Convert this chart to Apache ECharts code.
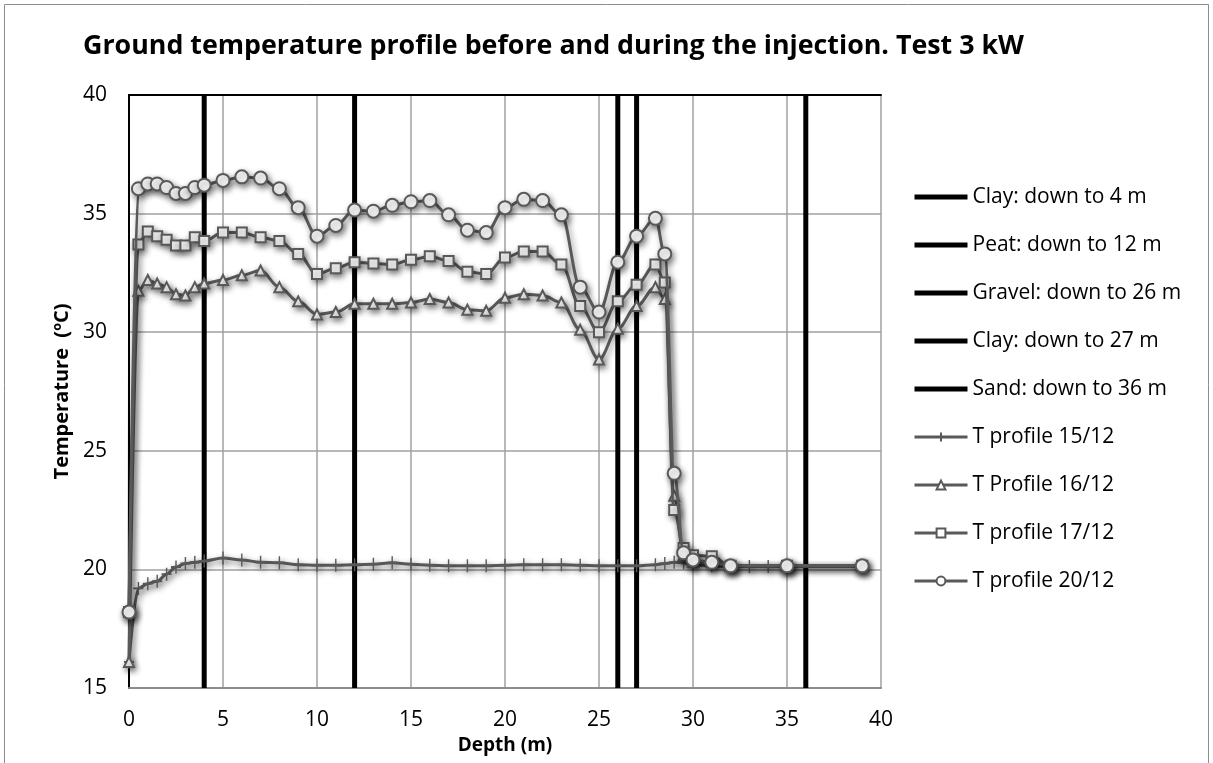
<!DOCTYPE html>
<html><head><meta charset="utf-8">
<script src="https://cdn.jsdelivr.net/npm/echarts@6/dist/echarts.min.js"></script>
<style>html,body{margin:0;padding:0;background:#fff}#c{width:1213px;height:763px}</style>
</head><body><div id="c"></div>
<script>
const titleText = 'Ground temperature profile before and during the injection. Test 3 kW';
const xTicks = [0, 5, 10, 15, 20, 25, 30, 35, 40];
const yTicks = [15, 20, 25, 30, 35, 40];

const layerNames = ['Clay: down to 4 m', 'Peat: down to 12 m', 'Gravel: down to 26 m', 'Clay: down to 27 m', 'Sand: down to 36 m'];
const layerDepths = [4, 12, 26, 27, 36];

const depth15 = [0,0.5,1,1.5,2,2.5,3,3.5,4,5,6,7,8,9,10,11,12,13,14,15,16,17,18,19,20,21,22,23,24,25,26,27,28,28.5,29,29.5,30,31,32,33,34,35,39];
const temp15  = [16.1,19.2,19.4,19.5,19.8,20.1,20.25,20.3,20.35,20.48,20.4,20.3,20.28,20.2,20.18,20.18,20.2,20.22,20.28,20.22,20.18,20.15,20.15,20.15,20.18,20.2,20.2,20.2,20.18,20.15,20.15,20.15,20.2,20.25,20.3,20.28,20.2,20.15,20.12,20.12,20.12,20.12,20.12];

const depthB = [0,0.5,1,1.5,2,2.5,3,3.5,4,5,6,7,8,9,10,11,12,13,14,15,16,17,18,19,20,21,22,23,24,25,26,27,28,28.5,29,29.5,30,31,32,35,39];
const temp16 = [16.1,31.75,32.2,32.05,31.9,31.6,31.55,31.9,32.05,32.2,32.4,32.6,31.9,31.3,30.75,30.85,31.2,31.2,31.2,31.25,31.4,31.25,30.95,30.9,31.45,31.6,31.55,31.25,30.1,28.85,30.15,31.1,31.9,31.4,23.1,20.6,20.3,20.3,20.15,20.15,20.15];
const temp17 = [18.2,33.7,34.25,34.05,33.9,33.65,33.65,34.0,33.85,34.2,34.2,34.0,33.85,33.3,32.45,32.7,32.95,32.9,32.85,33.05,33.2,33.0,32.55,32.45,33.15,33.4,33.4,32.85,31.1,30.0,31.3,32.0,32.85,32.1,22.5,20.9,20.6,20.55,20.15,20.15,20.15];
const temp20 = [18.2,36.05,36.25,36.25,36.1,35.85,35.85,36.1,36.2,36.4,36.55,36.5,36.05,35.25,34.05,34.5,35.15,35.1,35.35,35.5,35.55,34.95,34.3,34.2,35.25,35.6,35.55,34.95,31.9,30.85,32.95,34.05,34.8,33.3,24.05,20.7,20.4,20.3,20.15,20.15,20.15];

const profileNames = ['T profile 15/12', 'T Profile 16/12', 'T profile 17/12', 'T profile 20/12'];

const zip = (xs, ys) => xs.map((x, i) => [x, ys[i]]);
const gray = '#595959';
const shadow = {shadowColor: 'rgba(0,0,0,0.45)', shadowBlur: 6, shadowOffsetX: 2, shadowOffsetY: 3};
const FONT = 'Open Sans';

const series = [];
layerNames.forEach((n, i) => {
  series.push({
    name: n, type: 'line', symbol: 'none', silent: true,
    data: [[layerDepths[i], 15], [layerDepths[i], 40]],
    lineStyle: {color: '#000', width: 5}, itemStyle: {color: '#000'}, z: 2
  });
});
const profData = [zip(depth15, temp15), zip(depthB, temp16), zip(depthB, temp17), zip(depthB, temp20)];
const symbols = ['path://M0,0L0,10M-5,5L5,5', 'emptyTriangle', 'emptyRect', 'emptyCircle'];
const sizes = [[10, 13], 10, 10, 13];
profileNames.forEach((n, i) => {
  series.push({
    name: n, type: 'line', data: profData[i],
    smooth: 0.35, smoothMonotone: 'x',
    symbol: symbols[i], symbolSize: sizes[i], showAllSymbol: true,
    lineStyle: Object.assign({color: gray, width: 3}, shadow),
    itemStyle: Object.assign({color: gray, borderColor: gray, borderWidth: 1.6}, shadow),
    z: 3 + i
  });
});

const legendData = layerNames.map(n => ({name: n, icon: 'path://M0,0H53V5H0Z', itemStyle: {color: '#000'}}))
  .concat(profileNames.map(n => ({name: n, lineStyle: {width: 3, color: gray}})));

const chart = echarts.init(document.getElementById('c'));
chart.setOption({
  animation: false,
  backgroundColor: '#fff',
  title: {text: titleText, left: 78, top: 28, textStyle: {fontFamily: FONT, fontWeight: 'bold', fontSize: 26.8, color: '#000'}},
  graphic: [{type: 'rect', shape: {x: 4.5, y: 4.5, width: 1204, height: 770}, style: {fill: 'none', stroke: '#8c8c8c', lineWidth: 1}, silent: true}],
  grid: {left: 129, right: 332, top: 95, bottom: 75},
  legend: {
    orient: 'vertical', left: 908, top: 180,
    itemWidth: 53, itemHeight: 11, itemGap: 24, symbolKeepAspect: true,
    data: legendData,
    textStyle: {fontFamily: FONT, fontSize: 21, color: '#000', lineHeight: 24},
    selectedMode: false
  },
  xAxis: [{
    type: 'value', min: 0, max: 40, interval: 5,
    name: 'Depth (m)', nameLocation: 'middle', nameGap: 47,
    nameTextStyle: {fontFamily: FONT, fontWeight: 'bold', fontSize: 19, color: '#000'},
    axisLine: {lineStyle: {color: '#8c8c8c', width: 2}},
    axisTick: {show: false},
    axisLabel: {fontFamily: FONT, fontSize: 21, color: '#000', margin: 22, formatter: v => xTicks.includes(v) ? String(v) : ''},
    splitLine: {lineStyle: {color: '#a0a0a0', width: 1.5}}
  }, {
    type: 'value', position: 'top', min: 0, max: 40, interval: 5,
    axisLine: {show: true, lineStyle: {color: '#000', width: 2}},
    axisTick: {show: false}, axisLabel: {show: false}, splitLine: {show: false}
  }],
  yAxis: [{
    type: 'value', min: 15, max: 40, interval: 5,
    name: 'Temperature  (ºC)', nameLocation: 'middle', nameGap: 56,
    nameTextStyle: {fontFamily: FONT, fontWeight: 'bold', fontSize: 20, color: '#000'},
    axisLine: {show: true, lineStyle: {color: '#8c8c8c', width: 2}},
    axisTick: {show: false},
    axisLabel: {fontFamily: FONT, fontSize: 21, color: '#000', margin: 22, formatter: v => yTicks.includes(v) ? String(v) : ''},
    splitLine: {lineStyle: {color: '#a0a0a0', width: 1.5}}
  }, {
    type: 'value', position: 'right', min: 15, max: 40, interval: 5,
    axisLine: {show: true, lineStyle: {color: '#000', width: 2}},
    axisTick: {show: false}, axisLabel: {show: false}, splitLine: {show: false}
  }],
  series: series
});
</script></body></html>
